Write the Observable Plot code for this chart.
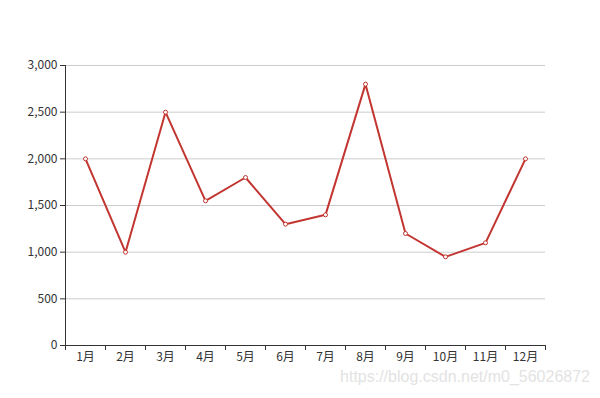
<!DOCTYPE html>
<html>
<head>
<meta charset="utf-8">
<script src="https://cdn.jsdelivr.net/npm/d3@7"></script>
<script src="https://cdn.jsdelivr.net/npm/@observablehq/plot@0.6"></script>
<style>
  html, body { margin: 0; padding: 0; background: #fff; }
  #wrap { position: relative; width: 600px; height: 398px; }
  #wm { position: absolute; right: 10px; top: 368px; font: 16px "Liberation Sans", Arial, sans-serif; color: #e3e3e3; white-space: nowrap; }
</style>
</head>
<body>
<div id="wrap"><div id="chart"></div><div id="wm">https://blog.csdn.net/m0_56026872</div></div>
<script>
const months = ["1月","2月","3月","4月","5月","6月","7月","8月","9月","10月","11月","12月"];
const values = [2000, 1000, 2500, 1550, 1800, 1300, 1400, 2800, 1200, 950, 1100, 2000];
const yTicks = [0, 500, 1000, 1500, 2000, 2500, 3000];

const data = months.map((m, i) => ({month: m, value: values[i]}));
const color = "#c23531";
const font = '"Noto Sans CJK SC", "Noto Sans", sans-serif';
const fmt = d3.format(",");

const chart = Plot.plot({
  width: 600,
  height: 398,
  marginLeft: 65,
  marginRight: 55,
  marginTop: 65,
  marginBottom: 53,
  style: {fontFamily: font, fontSize: "12px", color: "#333", background: "#fff"},
  x: {type: "band", domain: months, padding: 0, axis: null, label: null},
  y: {domain: [0, 3000], axis: null, label: null},
  marks: [
    Plot.gridY(yTicks.filter(d => d > 0), {stroke: "#ccc", strokeOpacity: 1}),
    Plot.axisY(yTicks, {tickSize: 5, tickPadding: 3, tickFormat: fmt, label: null, stroke: "#333", fill: "#333", fontSize: 12}),
    Plot.ruleY([0], {stroke: "#333"}),
    Plot.ruleX(["1月"], {dx: -20, stroke: "#333"}),
    Plot.axisX(months, {tickSize: 5, tickFormat: () => "", label: null, dx: -20, stroke: "#333"}),
    Plot.axisX(["12月"], {tickSize: 5, tickFormat: () => "", label: null, dx: 20, stroke: "#333"}),
    Plot.axisX(months, {tickSize: 0, tickPadding: 7, label: null, fill: "#333", fontSize: 12}),
    Plot.line(data, {x: "month", y: "value", stroke: color, strokeWidth: 2}),
    Plot.dot(data, {x: "month", y: "value", r: 2, fill: "#fff", stroke: color, strokeWidth: 1})
  ]
});
document.getElementById("chart").appendChild(chart);
</script>
</body>
</html>
